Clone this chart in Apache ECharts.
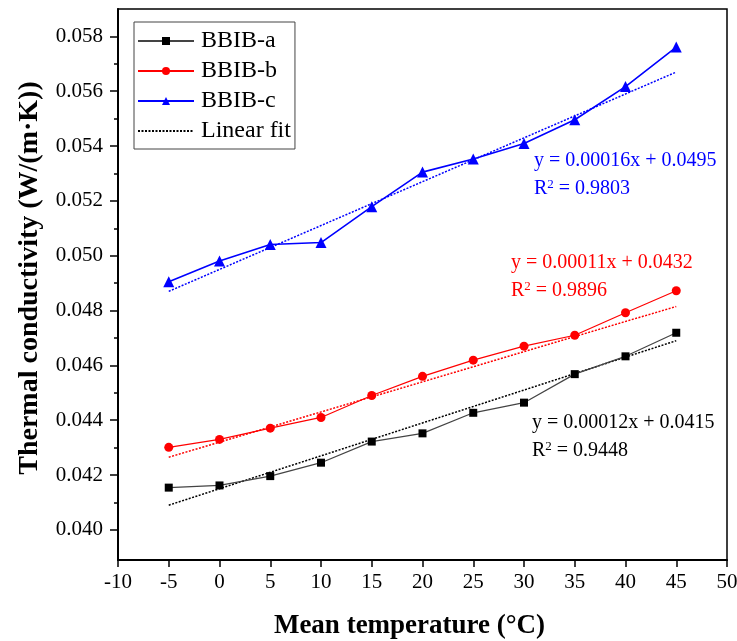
<!DOCTYPE html>
<html>
<head>
<meta charset="utf-8">
<script src="https://cdn.jsdelivr.net/npm/echarts@6/dist/echarts.min.js"></script>
<style>
  html, body { margin: 0; padding: 0; background: #fff; }
  #chart { width: 737px; height: 641px; }
</style>
</head>
<body>
<div id="chart"></div>
<script>
// Mean temperature (°C) at which conductivity was measured
const temps = [-5, 0, 5, 10, 15, 20, 25, 30, 35, 40, 45];

// Thermal conductivity, W/(m·K)
const bbibA = [0.04154, 0.04162, 0.04196, 0.04245, 0.04322, 0.04352, 0.04427, 0.04464, 0.04568, 0.04633, 0.04719];
const bbibB = [0.04301, 0.04330, 0.04371, 0.04410, 0.04490, 0.04560, 0.04619, 0.04670, 0.04710, 0.04792, 0.04872];
const bbibC = [0.04905, 0.04981, 0.05041, 0.05048, 0.05179, 0.05305, 0.05353, 0.05409, 0.05496, 0.05617, 0.05761];

// Linear fit coefficients (y = slope·x + intercept) and R²
const fitSlope = [0.00012, 0.00011, 0.00016];
const fitIntercept = [0.0415, 0.0432, 0.0495];
const fitR2 = ['0.9448', '0.9896', '0.9803'];
const fitRange = [-5, 45];

// Axis ticks
const yMajorTicks = [0.040, 0.042, 0.044, 0.046, 0.048, 0.050, 0.052, 0.054, 0.056, 0.058];
const yMinorTicks = [0.041, 0.043, 0.045, 0.047, 0.049, 0.051, 0.053, 0.055, 0.057];

const FONT = '"Liberation Serif", "Times New Roman", serif';

function pairs(ys) { return temps.map((t, i) => [t, ys[i]]); }
function fitLine(k) { return fitRange.map(x => [x, fitSlope[k] * x + fitIntercept[k]]); }

const chart = echarts.init(document.getElementById('chart'), null, { renderer: 'canvas' });

const dataSeries = (name, ys, symbol, size, color, lineColor, width) => ({
  name, type: 'line', data: pairs(ys), symbol, symbolSize: size,
  itemStyle: { color }, lineStyle: { color: lineColor, width },
  z: 3, animation: false
});
const fitSeries = (name, k, color) => ({
  name, type: 'line', data: fitLine(k), symbol: 'none', showSymbol: false,
  lineStyle: { color, width: 1.5, type: [2, 1.5] }, itemStyle: { color },
  z: 2, animation: false
});

// Fit equation and R² written beside each group of points
function eqText(k, color, left, top) {
  return [
    {
      type: 'text', left, top,
      style: {
        text: 'y = ' + fitSlope[k].toFixed(5) + 'x + ' + fitIntercept[k].toFixed(4),
        fill: color, fontSize: 20, fontFamily: FONT
      }
    },
    {
      type: 'text', left, top: top + 27,
      style: {
        text: '{a|R}{s|2}{a| = ' + fitR2[k] + '}',
        fill: color, fontFamily: FONT,
        rich: {
          a: { fontSize: 20, fontFamily: FONT, fill: color },
          s: { fontSize: 13, fontFamily: FONT, fill: color, padding: [0, 0, 9, 0] }
        }
      }
    }
  ];
}

chart.setOption({
  backgroundColor: '#fff',
  animation: false,
  grid: {
    left: 118, right: 10, top: 9, bottom: 81,
    outerBoundsMode: 'none', containLabel: false,
    show: true, borderColor: '#000', borderWidth: 1.5, backgroundColor: 'transparent'
  },
  legend: {
    data: [
      { name: 'BBIB-a' },
      { name: 'BBIB-b' },
      { name: 'BBIB-c' },
      { name: 'Linear fit', itemStyle: { color: 'rgba(0,0,0,0)', borderWidth: 0 } }
    ],
    orient: 'vertical', left: 134, top: 22,
    itemWidth: 56, itemHeight: 10, itemGap: 6,
    textStyle: { fontSize: 24, fontFamily: FONT, color: '#000', padding: [0, 0, 0, 2] },
    borderColor: '#444', borderWidth: 1, padding: [7, 4, 6, 3],
    selectedMode: false
  },
  xAxis: {
    type: 'value', min: -10, max: 50, interval: 5,
    name: 'Mean temperature (°C)', nameLocation: 'middle', nameGap: 53,
    nameTextStyle: { fontSize: 27, fontWeight: 'bold', fontFamily: FONT, color: '#000', padding: [0, 26, 0, 0] },
    axisLine: { show: true, onZero: false, lineStyle: { color: '#000', width: 2 } },
    axisTick: { show: true, inside: false, length: 7, lineStyle: { color: '#000', width: 1.5 } },
    axisLabel: { fontSize: 21, fontFamily: FONT, color: '#000', margin: 12 },
    splitLine: { show: false }
  },
  yAxis: [
    {
      type: 'value', min: 0.0389, max: 0.059,
      name: 'Thermal conductivity (W/(m·K))', nameLocation: 'middle', nameGap: 74, nameRotate: 90,
      nameTextStyle: { fontSize: 28, fontWeight: 'bold', fontFamily: FONT, color: '#000', padding: [0, 0, 0, 13] },
      axisLine: { show: true, onZero: false, lineStyle: { color: '#000', width: 2 } },
      axisTick: { show: true, inside: false, length: 8, customValues: yMajorTicks, lineStyle: { color: '#000', width: 1.5 } },
      axisLabel: { customValues: yMajorTicks, fontSize: 21, fontFamily: FONT, color: '#000', margin: 15, formatter: v => v.toFixed(3) },
      splitLine: { show: false }
    },
    {
      type: 'value', min: 0.0389, max: 0.059, position: 'left',
      axisLine: { show: false, onZero: false },
      axisTick: { show: true, inside: false, length: 4, customValues: yMinorTicks, lineStyle: { color: '#000', width: 1.5 } },
      axisLabel: { show: false },
      splitLine: { show: false }
    }
  ],
  series: [
    dataSeries('BBIB-a', bbibA, 'rect', 8, '#000', '#444', 1.2),
    dataSeries('BBIB-b', bbibB, 'circle', 9, '#ff0000', '#ff0000', 1.2),
    dataSeries('BBIB-c', bbibC, 'triangle', 11, '#0000ff', '#0000ff', 1.6),
    fitSeries('Linear fit', 0, '#000'),
    fitSeries('fit-b', 1, '#ff0000'),
    fitSeries('fit-c', 2, '#0000ff')
  ],
  graphic: [
    ...eqText(2, '#0000ff', 534, 151),
    ...eqText(1, '#ff0000', 511, 253),
    ...eqText(0, '#000', 532, 413)
  ]
});
</script>
</body>
</html>
